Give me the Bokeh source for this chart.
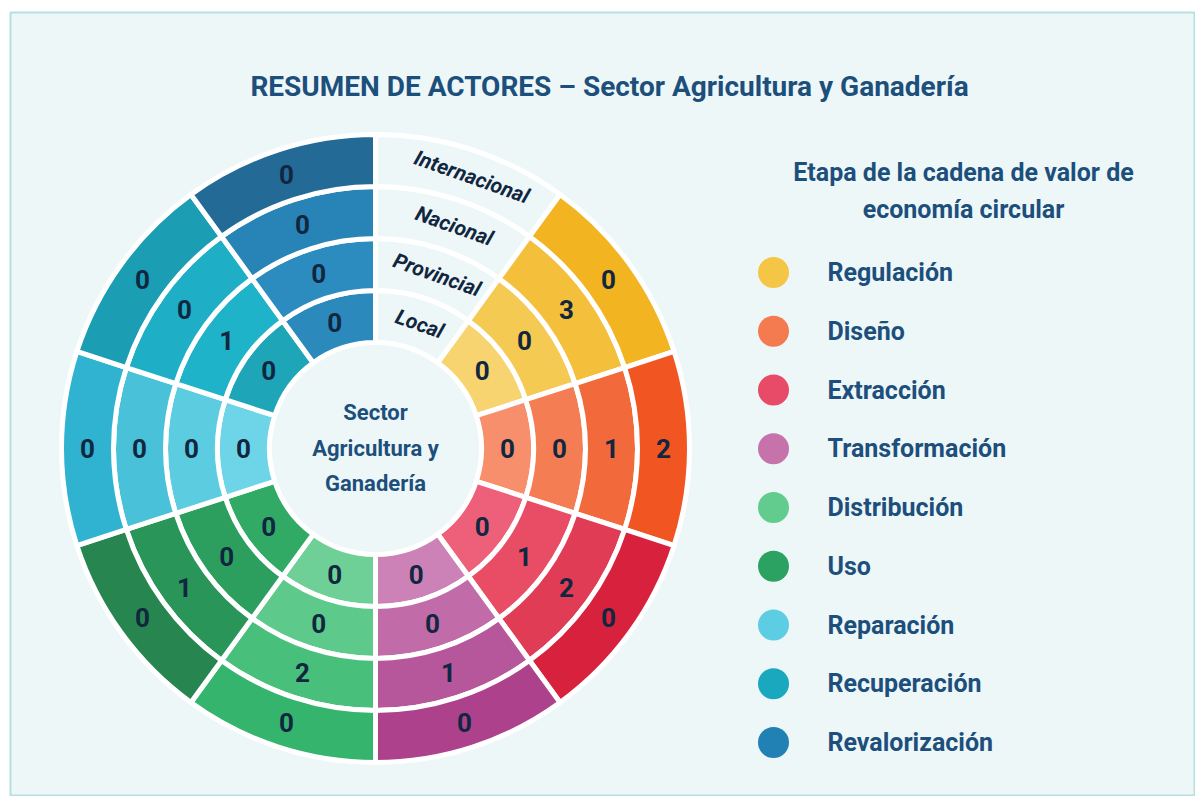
import math
from bokeh.plotting import figure
from bokeh.models import Range1d, ColumnDataSource
from bokeh.core.properties import value
from bokeh.embed import file_html
from bokeh.resources import INLINE

# ---------------- data ----------------
stages = ["Regulación", "Diseño", "Extracción", "Transformación", "Distribución",
          "Uso", "Reparación", "Recuperación", "Revalorización"]
levels = ["Local", "Provincial", "Nacional", "Internacional"]
local = [0, 0, 0, 0, 0, 0, 0, 0, 0]
provincial = [0, 0, 1, 0, 0, 0, 0, 1, 0]
nacional = [3, 1, 2, 1, 2, 1, 0, 0, 0]
internacional = [0, 2, 0, 0, 0, 0, 0, 0, 0]
values_by_level = [local, provincial, nacional, internacional]

# colours per stage: inner ring -> outer ring
ring_colors = [
    ["#f7d46f", "#f5ca52", "#f4bf3a", "#f2b420"],  # Regulación
    ["#f78f6c", "#f47d54", "#f26a3c", "#f05522"],  # Diseño
    ["#ee6079", "#e94c65", "#e13c55", "#d8213d"],  # Extracción
    ["#cc82b6", "#c16ca8", "#b6579c", "#ad418b"],  # Transformación
    ["#6fd097", "#5dc98b", "#49bf7c", "#35b46d"],  # Distribución
    ["#31aa66", "#2c9f5e", "#2a9558", "#27854f"],  # Uso
    ["#6ed4e7", "#5ccce1", "#48c1d9", "#2fb3d0"],  # Reparación
    ["#1ea6b8", "#1fb3c9", "#1eaec6", "#1b9db3"],  # Recuperación
    ["#2b89bc", "#2c8bbf", "#2883b6", "#236b96"],  # Revalorización
]
legend_colors = ["#f5c645", "#f47a50", "#e84b67", "#c673ac", "#62cc8e",
                 "#2ba262", "#5ccde3", "#1aa8bf", "#2180b4"]

# ---------------- layout ----------------
BG = "#eef7f8"
NAVY = "#1d4f7c"
DARK = "#11263f"
W, H = 1195, 796
CX, CY = 375, 804 - 448
R0, RW = 106, 52
SEG = 2 * math.pi / 10

p = figure(width=W, height=H, output_backend="svg", toolbar_location=None,
           x_range=Range1d(10, 1195), y_range=Range1d(8, 792),
           x_axis_type=None, y_axis_type=None,
           min_border_left=10, min_border_top=12, min_border_right=0, min_border_bottom=0,
           background_fill_color=BG, border_fill_color="white",
           outline_line_color="#b5dfe0", outline_line_width=2)
p.grid.visible = False

def cw_to_bokeh(theta):
    # clockwise-from-top angle -> bokeh counter-clockwise-from-x angle
    return math.pi / 2 - theta

# blank segment (ring labels area)
blank = dict(ir=[], orr=[], sa=[], ea=[])
for k in range(4):
    blank["ir"].append(R0 + k * RW)
    blank["orr"].append(R0 + (k + 1) * RW)
    blank["sa"].append(cw_to_bokeh(SEG))
    blank["ea"].append(cw_to_bokeh(0))
p.annular_wedge(x=CX, y=CY, inner_radius="ir", outer_radius="orr", start_angle="sa",
                end_angle="ea", source=ColumnDataSource(blank), fill_color=BG,
                line_color="white", line_width=5)

# stage cells
cells = dict(ir=[], orr=[], sa=[], ea=[], color=[], tx=[], ty=[], label=[])
for i, st in enumerate(stages):
    t1 = SEG * (i + 1)
    t2 = SEG * (i + 2)
    tm = (t1 + t2) / 2
    for k in range(4):
        cells["ir"].append(R0 + k * RW)
        cells["orr"].append(R0 + (k + 1) * RW)
        cells["sa"].append(cw_to_bokeh(t2))
        cells["ea"].append(cw_to_bokeh(t1))
        cells["color"].append(ring_colors[i][k])
        rm = R0 + (k + 0.5) * RW
        cells["tx"].append(CX + rm * math.sin(tm))
        cells["ty"].append(CY + rm * math.cos(tm))
        cells["label"].append(str(values_by_level[k][i]))
src = ColumnDataSource(cells)
p.annular_wedge(x=CX, y=CY, inner_radius="ir", outer_radius="orr", start_angle="sa",
                end_angle="ea", source=src, fill_color="color",
                line_color="white", line_width=5)
p.text(x="tx", y="ty", text="label", source=src, text_align="center",
       text_baseline="middle", text_font=value("Roboto"), text_font_style="bold",
       text_font_size="26px", text_color=DARK)

# ring labels in the blank segment
lab_theta = math.radians(19.5)
lab = dict(x=[], y=[], t=levels, a=[])
for k in range(4):
    rm = R0 + (k + 0.5) * RW
    lab["x"].append(CX + rm * math.sin(lab_theta))
    lab["y"].append(CY + rm * math.cos(lab_theta))
    lab["a"].append(-lab_theta)
p.text(x="x", y="y", text="t", angle="a", source=ColumnDataSource(lab),
       text_align="center", text_baseline="middle", text_font=value("Roboto"),
       text_font_style="bold italic", text_font_size="21px", text_color=DARK)

# centre text
center_lines = ["Sector", "Agricultura y", "Ganadería"]
p.text(x=[CX] * 3, y=[CY + 36, CY, CY - 35], text=center_lines, text_align="center",
       text_baseline="middle", text_font=value("Roboto"), text_font_style="bold",
       text_font_size="22px", text_color=NAVY)

# title
p.text(x=[609], y=[804 - 86], text=["RESUMEN DE ACTORES – Sector Agricultura y Ganadería"],
       text_align="center", text_baseline="middle", text_font=value("Roboto"),
       text_font_style="bold", text_font_size="28px", text_color=NAVY)

# legend
legend_title = ["Etapa de la cadena de valor de", "economía circular"]
p.text(x=[963, 963], y=[804 - 172, 804 - 209], text=legend_title, text_align="center",
       text_baseline="middle", text_font=value("Roboto"), text_font_style="bold",
       text_font_size="25px", text_color=NAVY)
leg = dict(x=[], y=[], tx=[], name=stages, color=legend_colors)
for i in range(len(stages)):
    yy = 804 - (272 + i * 58.75)
    leg["x"].append(773)
    leg["y"].append(yy)
    leg["tx"].append(827)
lsrc = ColumnDataSource(leg)
p.scatter(x="x", y="y", size=31, fill_color="color", line_color=None, source=lsrc)
p.text(x="tx", y="y", text="name", source=lsrc, text_align="left", text_baseline="middle",
       text_font=value("Roboto"), text_font_style="bold", text_font_size="25px",
       text_color=NAVY)

open("out.html", "w").write(file_html(p, INLINE))
